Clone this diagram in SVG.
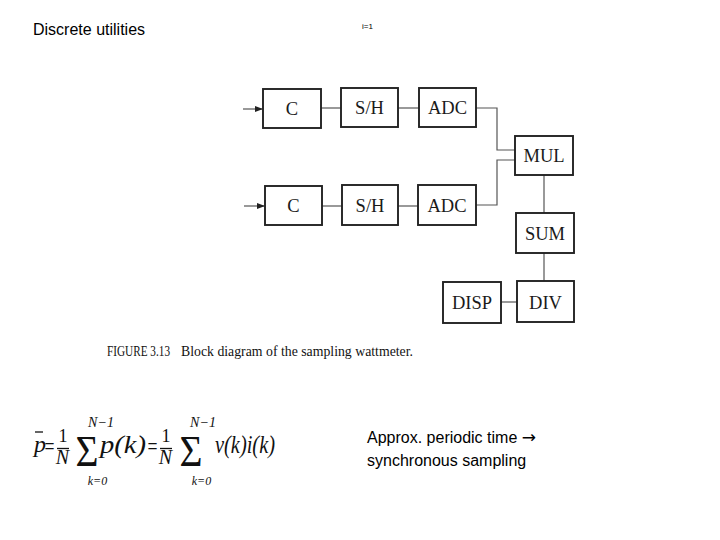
<svg xmlns="http://www.w3.org/2000/svg" width="720" height="540" viewBox="0 0 720 540">
<defs>
<style>
.box rect{fill:#fff;stroke:#222;stroke-width:1.9}
.box text{font-family:"Liberation Serif",serif;font-size:18.5px;fill:#1a1a1a;text-anchor:middle}
.conn path{fill:none;stroke:#555;stroke-width:1.2}
.sans{font-family:"Liberation Sans",Arial,sans-serif;fill:#000}
.serif{font-family:"Liberation Serif",serif;fill:#111}
.m{font-family:"Liberation Serif",serif;font-style:italic;fill:#111}
.mr{font-family:"Liberation Serif",serif;fill:#111}
</style>
<marker id="ah" markerWidth="8" markerHeight="6" refX="7" refY="3" orient="auto" markerUnits="userSpaceOnUse">
<path d="M0,0 L8,3 L0,6 z" fill="#222"/>
</marker>
</defs>
<rect width="720" height="540" fill="#fff"/>
<text class="sans" x="33" y="35" font-size="16">Discrete utilities</text>
<text class="sans" x="362" y="29" font-size="8" fill="#444">i=1</text>

<g class="conn">
<path d="M243,109 H262" stroke="#222" marker-end="url(#ah)"/>
<path d="M244,206 H264" stroke="#222" marker-end="url(#ah)"/>
<path d="M321,108 H341"/>
<path d="M398,108 H419"/>
<path d="M322,206 H342"/>
<path d="M398,206 H418"/>
<path d="M476,108 H497 V150 H515"/>
<path d="M476,205 H497 V160 H515"/>
<path d="M544,175 V213"/>
<path d="M544,253 V281"/>
<path d="M501,302 H517"/>
</g>

<g id="c1" class="box"><rect x="263" y="89" width="58" height="39"/><text x="292" y="115">C</text></g>
<g id="sh1" class="box"><rect x="341" y="88" width="57" height="39"/><text x="369.5" y="114">S/H</text></g>
<g id="adc1" class="box"><rect x="419" y="88" width="57" height="39"/><text x="447.5" y="114">ADC</text></g>
<g id="c2" class="box"><rect x="265" y="186" width="57" height="39"/><text x="293.5" y="212">C</text></g>
<g id="sh2" class="box"><rect x="342" y="185" width="56" height="40"/><text x="370" y="212">S/H</text></g>
<g id="adc2" class="box"><rect x="418" y="185" width="58" height="40"/><text x="447" y="212">ADC</text></g>
<g id="mul" class="box"><rect x="515" y="136" width="58" height="39"/><text x="544" y="162">MUL</text></g>
<g id="sum" class="box"><rect x="516" y="213" width="58" height="40"/><text x="545" y="240">SUM</text></g>
<g id="div" class="box"><rect x="517" y="281" width="57" height="41"/><text x="545.5" y="309">DIV</text></g>
<g id="disp" class="box"><rect x="443" y="282" width="58" height="41"/><text x="472" y="309">DISP</text></g>

<text class="serif" x="107" y="356" font-size="14" textLength="63" lengthAdjust="spacingAndGlyphs">FIGURE 3.13</text>
<text class="serif" x="181" y="356" font-size="15" textLength="232" lengthAdjust="spacingAndGlyphs">Block diagram of the sampling wattmeter.</text>

<g id="formula">
<text class="m" x="34" y="452" font-size="24">p</text>
<path d="M35,432 H43" stroke="#111" stroke-width="1.3"/>
<text class="mr" x="44.5" y="454" font-size="24" textLength="10" lengthAdjust="spacingAndGlyphs">=</text>
<text class="mr" x="63" y="442" font-size="18" text-anchor="middle">1</text>
<path d="M57,448.5 H69" stroke="#111" stroke-width="1.3"/>
<text class="m" x="62.5" y="464" font-size="20" text-anchor="middle">N</text>
<text class="mr" x="87" y="466" font-size="44" text-anchor="middle" textLength="23" lengthAdjust="spacingAndGlyphs">Σ</text>
<text class="m" x="101" y="427" font-size="14" text-anchor="middle">N−1</text>
<text class="m" x="97.5" y="485" font-size="12" text-anchor="middle">k=0</text>
<text class="m" x="100" y="453" font-size="26" textLength="46" lengthAdjust="spacingAndGlyphs">p(k)</text>
<text class="mr" x="147.5" y="454" font-size="24" textLength="10" lengthAdjust="spacingAndGlyphs">=</text>
<text class="mr" x="166" y="442" font-size="18" text-anchor="middle">1</text>
<path d="M160,448.5 H172" stroke="#111" stroke-width="1.3"/>
<text class="m" x="165.5" y="464" font-size="20" text-anchor="middle">N</text>
<text class="mr" x="191" y="466" font-size="44" text-anchor="middle" textLength="23" lengthAdjust="spacingAndGlyphs">Σ</text>
<text class="m" x="203" y="427" font-size="14" text-anchor="middle">N−1</text>
<text class="m" x="201.5" y="485" font-size="12" text-anchor="middle">k=0</text>
<text class="m" x="215" y="453" font-size="26" textLength="60" lengthAdjust="spacingAndGlyphs">v(k)i(k)</text>
</g>

<text class="sans" font-size="16"><tspan x="367" y="443">Approx. periodic time <tspan font-family="'DejaVu Sans',sans-serif" font-size="17">→</tspan></tspan><tspan x="367" y="466">synchronous sampling</tspan></text>
</svg>
